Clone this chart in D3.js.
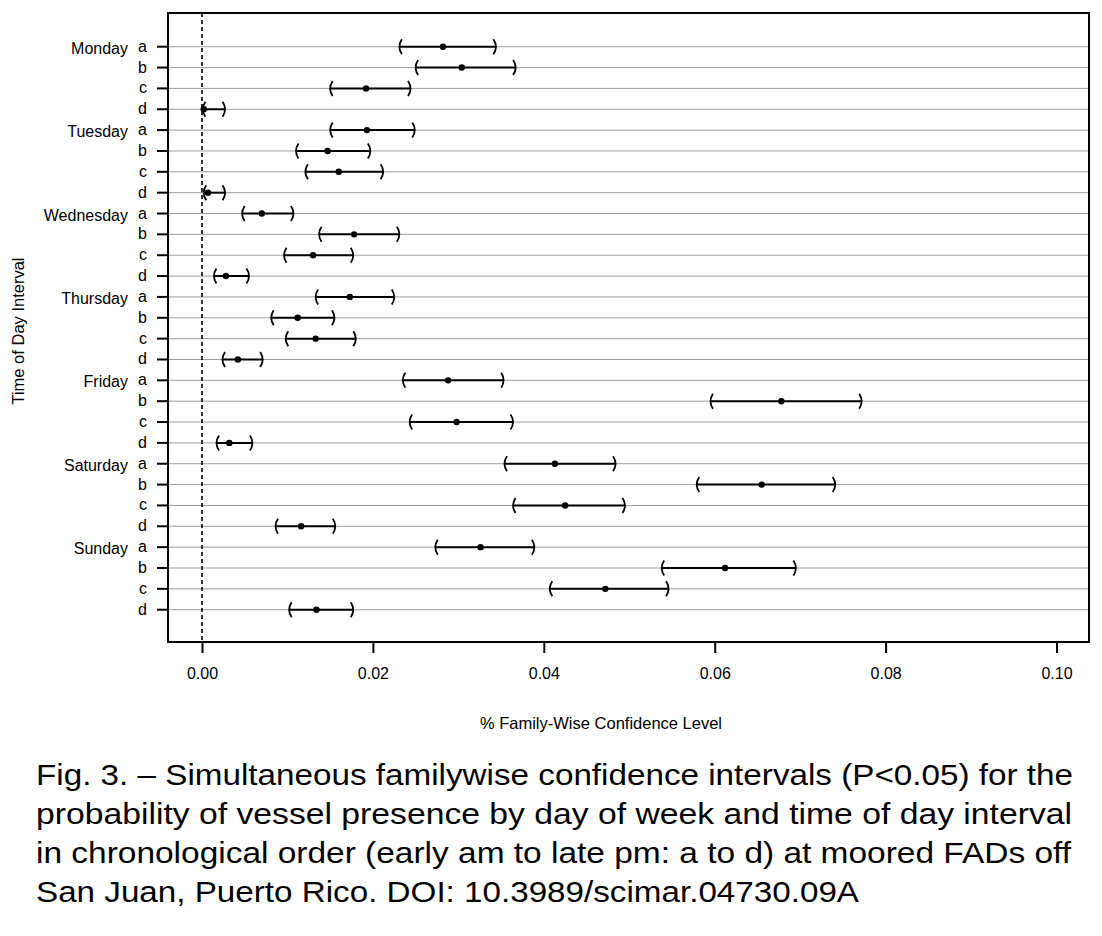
<!DOCTYPE html>
<html>
<head>
<meta charset="utf-8">
<script src="https://cdn.jsdelivr.net/npm/d3@7"></script>
<style>
	body { margin: 0; background: #fff; }
	text { font-family: "Liberation Sans", Arial, Helvetica, sans-serif; fill: #000; }
</style>
</head>
<body>
<svg id="chart" width="1102" height="936"></svg>
<script>
const days = ['Monday', 'Tuesday', 'Wednesday', 'Thursday', 'Friday', 'Saturday', 'Sunday']
const intervals = ['a', 'b', 'c', 'd']

// estimate and family-wise bounds, Monday a .. Sunday d
const estimate = [
	0.0282, 0.0304, 0.0192, 0.0002,
	0.0193, 0.0147, 0.0160, 0.0007,
	0.0070, 0.0178, 0.0130, 0.0028,
	0.0173, 0.0112, 0.0133, 0.0042,
	0.0288, 0.0678, 0.0298, 0.0032,
	0.0413, 0.0655, 0.0425, 0.0116,
	0.0326, 0.0612, 0.0472, 0.0134
]
const lower = [
	0.0231, 0.0250, 0.0150, 0.0001,
	0.0150, 0.0110, 0.0121, 0.0002,
	0.0047, 0.0137, 0.0096, 0.0014,
	0.0133, 0.0081, 0.0098, 0.0024,
	0.0235, 0.0595, 0.0243, 0.0017,
	0.0354, 0.0579, 0.0364, 0.0086,
	0.0273, 0.0538, 0.0407, 0.0102
]
const upper = [
	0.0344, 0.0367, 0.0244, 0.0027,
	0.0249, 0.0197, 0.0212, 0.0027,
	0.0107, 0.0231, 0.0177, 0.0055,
	0.0225, 0.0155, 0.0180, 0.0071,
	0.0353, 0.0772, 0.0364, 0.0059,
	0.0484, 0.0741, 0.0495, 0.0156,
	0.0389, 0.0695, 0.0546, 0.0177
]
const xTicks = [0, 0.02, 0.04, 0.06, 0.08, 0.10]

const xTitle = '% Family-Wise Confidence Level'
const yTitle = 'Time of Day Interval'
const caption = [
	'Fig. 3. \u2013 Simultaneous familywise confidence intervals (P<0.05) for the',
	'probability of vessel presence by day of week and time of day interval',
	'in chronological order (early am to late pm: a to d) at moored FADs off',
	'San Juan, Puerto Rico. DOI: 10.3989/scimar.04730.09A'
]
const captionWidths = [1037, 1036, 1035, 823]

const svg = d3.select('#chart')
const plotLeft = 168, plotRight = 1089, plotTop = 13, plotBottom = 642

const rows = []
days.forEach((day, i) => {
	intervals.forEach((iv, j) => {
		const k = i * intervals.length + j
		rows.push({ day: day, iv: iv, idx: k, est: estimate[k], lo: lower[k], hi: upper[k] })
	})
})

const xScale = d3.scaleLinear()
	.domain([0, 0.1])
	.range([202, 1056.5])

const yScale = d3.scalePoint()
	.domain(rows.map(d => d.idx))
	.range([46.7, 609.7])

// grey guide lines, one per row
svg.append('g')
	.selectAll('line')
	.data(rows)
	.enter()
	.append('line')
		.attr('x1', plotLeft)
		.attr('x2', plotRight)
		.attr('y1', d => yScale(d.idx))
		.attr('y2', d => yScale(d.idx))
		.style('stroke', '#9c9c9c')
		.style('stroke-width', 1)

// zero reference
svg.append('line')
	.attr('x1', xScale(0))
	.attr('x2', xScale(0))
	.attr('y1', plotTop)
	.attr('y2', plotBottom)
	.style('stroke', 'black')
	.style('stroke-width', 1.6)
	.style('stroke-dasharray', '4,3')

// x axis
const xAxis = d3.axisBottom(xScale)
	.tickValues(xTicks)
	.tickFormat(d3.format('.2f'))
	.tickSize(11)
	.tickPadding(15)

const xG = svg.append('g')
	.attr('transform', `translate(0, ${plotBottom})`)
	.call(xAxis)
xG.select('path.domain').remove()
xG.selectAll('.tick line').style('stroke', 'black').style('stroke-width', 2)
xG.selectAll('.tick text')
	.style('font-size', '16px')
	.style('font-family', '"Liberation Sans", Arial, sans-serif')
	.style('fill', 'black')

// y ticks
svg.append('g')
	.selectAll('line')
	.data(rows)
	.enter()
	.append('line')
		.attr('x1', 157)
		.attr('x2', plotLeft)
		.attr('y1', d => yScale(d.idx))
		.attr('y2', d => yScale(d.idx))
		.style('stroke', 'black')
		.style('stroke-width', 2)

svg.append('g')
	.selectAll('text')
	.data(rows)
	.enter()
	.append('text')
		.attr('x', 147)
		.attr('y', d => yScale(d.idx) + 5)
		.attr('text-anchor', 'end')
		.style('font-size', '16px')
		.text(d => d.iv)

svg.append('g')
	.selectAll('text')
	.data(rows.filter(d => d.iv == 'a'))
	.enter()
	.append('text')
		.attr('x', 128)
		.attr('y', d => yScale(d.idx) + 7)
		.attr('text-anchor', 'end')
		.style('font-size', '16px')
		.text(d => d.day)

// intervals
const ci = svg.selectAll('g.ci')
	.data(rows)
	.enter()
	.append('g')
		.attr('class', 'ci')
		.attr('transform', d => `translate(0, ${yScale(d.idx)})`)

ci.append('line')
	.attr('x1', d => xScale(d.lo))
	.attr('x2', d => xScale(d.hi))
	.attr('y1', 0)
	.attr('y2', 0)
	.style('stroke', 'black')
	.style('stroke-width', 2)

ci.append('path')
	.attr('d', d => {
		const x = xScale(d.lo)
		return `M ${x + 2.5} -7.5 Q ${x - 2.5} 0 ${x + 2.5} 7.5`
	})
	.style('fill', 'none')
	.style('stroke', 'black')
	.style('stroke-width', 1.8)

ci.append('path')
	.attr('d', d => {
		const x = xScale(d.hi)
		return `M ${x - 2.5} -7.5 Q ${x + 2.5} 0 ${x - 2.5} 7.5`
	})
	.style('fill', 'none')
	.style('stroke', 'black')
	.style('stroke-width', 1.8)

ci.append('circle')
	.attr('cx', d => xScale(d.est))
	.attr('cy', 0)
	.attr('r', 3.2)
	.attr('fill', 'black')

// frame
svg.append('rect')
	.attr('x', plotLeft)
	.attr('y', plotTop)
	.attr('width', plotRight - plotLeft)
	.attr('height', plotBottom - plotTop)
	.style('fill', 'none')
	.style('stroke', 'black')
	.style('stroke-width', 2)

// titles
svg.append('text')
	.attr('x', 601)
	.attr('y', 729)
	.attr('text-anchor', 'middle')
	.style('font-size', '16.5px')
	.text(xTitle)

svg.append('text')
	.attr('transform', 'translate(24, 331) rotate(-90)')
	.attr('text-anchor', 'middle')
	.style('font-size', '16.5px')
	.text(yTitle)

// caption
svg.append('g')
	.selectAll('text')
	.data(caption)
	.enter()
	.append('text')
		.attr('x', 36)
		.attr('y', (d, i) => 785 + i * 39)
		.attr('textLength', (d, i) => captionWidths[i])
		.attr('lengthAdjust', 'spacingAndGlyphs')
		.style('font-size', '30px')
		.text(d => d)
</script>
</body>
</html>
